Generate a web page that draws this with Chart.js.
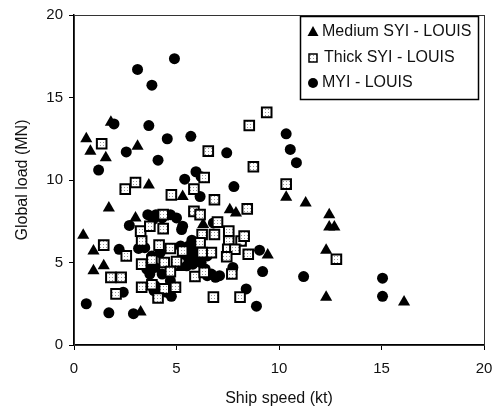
<!DOCTYPE html>
<html>
<head>
<meta charset="utf-8">
<script src="https://cdn.jsdelivr.net/npm/chart.js@4.4.1/dist/chart.umd.min.js"></script>
<style>
  html, body { margin: 0; padding: 0; background: #fff; }
  #wrap { width: 503px; height: 413px; }
</style>
</head>
<body>
<div id="wrap"><canvas id="loadChart" width="503" height="413"></canvas></div>
<script>
// axis ticks
var speedTicks = [0, 5, 10, 15, 20];
var loadTicks = [0, 5, 10, 15, 20];

// Medium SYI - LOUIS (triangles)
var mediumSpeed = [0.6, 0.8, 1.55, 1.8, 3.1, 3.65, 5.3, 1.7, 3.0, 0.45, 0.95, 0.95, 1.45, 3.25, 5.2, 6.3, 7.6, 7.9, 9.45, 10.35, 11.3, 12.45, 12.45, 12.7, 12.3, 12.3, 16.1];
var mediumLoad  = [12.5, 11.75, 11.35, 13.5, 12.05, 9.7, 9.0, 8.3, 7.7, 6.65, 5.7, 4.5, 4.8, 2.0, 4.7, 7.3, 8.2, 8.0, 5.45, 8.95, 8.6, 7.9, 7.15, 7.15, 5.75, 2.9, 2.6];

// Thick SYI - LOUIS (squares)
var thickSpeed = [1.35, 9.4, 8.55, 6.55, 8.75, 10.35, 2.5, 3.0, 4.75, 5.85, 6.85, 8.45, 5.85, 6.15, 6.35, 7.0, 6.25, 6.85, 7.55, 7.55, 8.15, 8.3, 7.5, 7.85, 8.5, 7.45, 6.7, 6.15, 1.45, 2.55, 3.25, 3.7, 4.35, 4.35, 3.3, 4.15, 4.7, 3.8, 3.3, 4.4, 5.0, 4.7, 5.3, 6.25, 5.9, 6.35, 7.7, 1.8, 2.3, 2.05, 3.3, 3.8, 4.4, 4.95, 4.1, 6.8, 8.1, 12.8];
var thickLoad  = [12.2, 14.1, 13.3, 11.75, 10.8, 9.75, 9.45, 9.85, 9.1, 9.45, 8.8, 8.25, 8.1, 7.9, 10.15, 7.45, 6.7, 6.7, 6.9, 6.3, 6.3, 6.6, 5.8, 5.8, 5.5, 5.35, 5.6, 6.2, 6.05, 5.4, 6.9, 7.2, 7.05, 7.9, 6.3, 6.05, 5.85, 5.15, 4.9, 5.0, 5.05, 4.45, 5.7, 5.6, 4.15, 4.4, 4.3, 4.1, 4.1, 3.1, 3.5, 3.65, 3.4, 3.5, 2.85, 2.9, 2.9, 5.2];

// MYI - LOUIS (circles)
var myiSpeed = [4.9, 3.1, 3.8, 1.95, 3.65, 4.55, 5.7, 2.55, 4.1, 7.45, 1.2, 10.35, 10.55, 10.85, 5.95, 5.4, 6.2, 7.8, 6.15, 2.7, 3.6, 4.0, 4.3, 4.7, 5.0, 3.85, 5.25, 6.8, 5.3, 5.75, 2.2, 3.15, 3.45, 3.8, 0.6, 1.7, 2.9, 2.4, 3.9, 4.75, 8.4, 8.9, 9.2, 9.05, 11.2, 15.05, 15.05, 6.9, 7.75, 3.55, 3.7, 3.95, 3.95, 4.5, 4.7, 4.3, 4.2, 5.4, 5.6, 5.8, 6.0, 6.2, 6.4, 6.5, 6.7, 5.5, 5.8, 5.2, 6.0, 7.1, 5.6, 6.5];
var myiLoad  = [17.35, 16.7, 15.75, 13.4, 13.3, 12.5, 12.65, 11.7, 11.2, 11.65, 10.6, 12.8, 11.85, 11.05, 10.5, 10.05, 10.2, 9.6, 9.0, 7.25, 7.9, 7.9, 7.7, 7.9, 7.7, 7.6, 7.0, 7.4, 7.2, 6.35, 5.8, 5.85, 5.9, 5.4, 2.5, 1.95, 1.9, 3.2, 3.3, 2.95, 3.4, 2.35, 4.45, 5.75, 4.15, 4.05, 2.95, 4.1, 4.7, 4.6, 4.3, 4.7, 3.6, 3.2, 3.9, 4.3, 5.6, 5.5, 5.2, 5.6, 5.3, 5.0, 4.6, 4.2, 4.3, 4.8, 4.9, 6.0, 5.8, 4.2, 6.0, 5.4];

function toPoints(xs, ys) {
  return xs.map(function(x, i) { return { x: x, y: ys[i] }; });
}

var fontFamily = '"Liberation Sans", Arial, Helvetica, sans-serif';
var textColor = '#111';

// dotted fill for the Thick SYI squares
var tile = document.createElement('canvas');
tile.width = 3; tile.height = 3;
var tctx = tile.getContext('2d');
tctx.fillStyle = '#fff';
tctx.fillRect(0, 0, 3, 3);
tctx.fillStyle = '#999';
tctx.fillRect(1, 1, 1, 1);
var dotted = tctx.createPattern(tile, 'repeat');

// thin box round the plot area
var frameBox = {
  id: 'frameBox',
  beforeDatasetsDraw: function(chart) {
    var a = chart.chartArea, ctx = chart.ctx;
    ctx.save();
    ctx.strokeStyle = '#333';
    ctx.lineWidth = 1;
    ctx.strokeRect(a.left + 0.5, a.top + 0.5, a.right - a.left, a.bottom - a.top);
    ctx.restore();
  }
};

// legend with a border, inside the plot
var boxLegend = {
  id: 'boxLegend',
  afterDraw: function(chart) {
    var ctx = chart.ctx;
    ctx.save();
    ctx.fillStyle = '#fff';
    ctx.fillRect(300, 16, 179, 83);
    ctx.strokeStyle = '#000';
    ctx.lineWidth = 1.5;
    ctx.strokeRect(300.5, 16.5, 178, 83);

    var rows = [32, 58, 83];
    // triangle
    ctx.fillStyle = '#000';
    ctx.beginPath();
    ctx.moveTo(313, rows[0] - 6);
    ctx.lineTo(318.5, rows[0] + 4);
    ctx.lineTo(307.5, rows[0] + 4);
    ctx.closePath();
    ctx.fill();
    // square
    ctx.fillStyle = dotted;
    ctx.fillRect(309, rows[1] - 4, 8, 8);
    ctx.strokeStyle = '#000';
    ctx.lineWidth = 1.5;
    ctx.strokeRect(309, rows[1] - 4, 8, 8);
    // circle
    ctx.fillStyle = '#000';
    ctx.beginPath();
    ctx.arc(313, rows[2], 5, 0, Math.PI * 2);
    ctx.fill();

    ctx.fillStyle = textColor;
    ctx.font = '16px ' + fontFamily;
    ctx.textBaseline = 'middle';
    ctx.textAlign = 'left';
    ctx.fillText('Medium SYI - LOUIS', 322, rows[0]);
    ctx.fillText('Thick SYI - LOUIS', 324, rows[1]);
    ctx.fillText('MYI - LOUIS', 322, rows[2]);
    ctx.restore();
  }
};

var ctx = document.getElementById('loadChart').getContext('2d');
var loadChart = new Chart(ctx, {
  type: 'scatter',
  data: {
    datasets: [
      {
        label: 'Medium SYI - LOUIS',
        data: toPoints(mediumSpeed, mediumLoad),
        pointStyle: 'triangle',
        pointRadius: 7,
        backgroundColor: '#000',
        borderColor: '#000',
        borderWidth: 0,
        order: 1
      },
      {
        label: 'Thick SYI - LOUIS',
        data: toPoints(thickSpeed, thickLoad),
        pointStyle: 'rect',
        pointRadius: 6.8,
        backgroundColor: dotted,
        borderColor: '#000',
        borderWidth: 2,
        order: 0
      },
      {
        label: 'MYI - LOUIS',
        data: toPoints(myiSpeed, myiLoad),
        pointStyle: 'circle',
        pointRadius: 5.5,
        backgroundColor: '#000',
        borderColor: '#000',
        borderWidth: 0,
        order: 2
      }
    ]
  },
  options: {
    responsive: false,
    animation: false,
    devicePixelRatio: 1,
    events: [],
    layout: { padding: { left: 0, right: 19, top: 12, bottom: 0 } },
    plugins: {
      legend: { display: false },
      tooltip: { enabled: false }
    },
    scales: {
      x: {
        type: 'linear',
        min: 0,
        max: 20,
        afterBuildTicks: function(s) { s.ticks = speedTicks.map(function(v) { return { value: v }; }); },
        afterFit: function(s) { s.height = 68; },
        border: { color: '#000', width: 1.5 },
        grid: { drawOnChartArea: false, drawTicks: true, tickLength: 5, tickColor: '#000', tickWidth: 1 },
        ticks: { color: textColor, font: { family: fontFamily, size: 15 }, padding: 10, maxRotation: 0 },
        title: { display: true, text: 'Ship speed (kt)', color: textColor, font: { family: fontFamily, size: 16 }, padding: { top: 0, bottom: 5 } }
      },
      y: {
        type: 'linear',
        min: 0,
        max: 20,
        afterBuildTicks: function(s) { s.ticks = loadTicks.map(function(v) { return { value: v }; }); },
        afterFit: function(s) { s.width = 74; },
        border: { color: '#000', width: 1.5 },
        grid: { drawOnChartArea: false, drawTicks: true, tickLength: 5, tickColor: '#000', tickWidth: 1 },
        ticks: { color: textColor, font: { family: fontFamily, size: 15 }, padding: 6 },
        title: { display: true, text: 'Global load (MN)', color: textColor, font: { family: fontFamily, size: 16 }, padding: { top: 13, bottom: 0 } }
      }
    }
  },
  plugins: [frameBox, boxLegend]
});
</script>
</body>
</html>
